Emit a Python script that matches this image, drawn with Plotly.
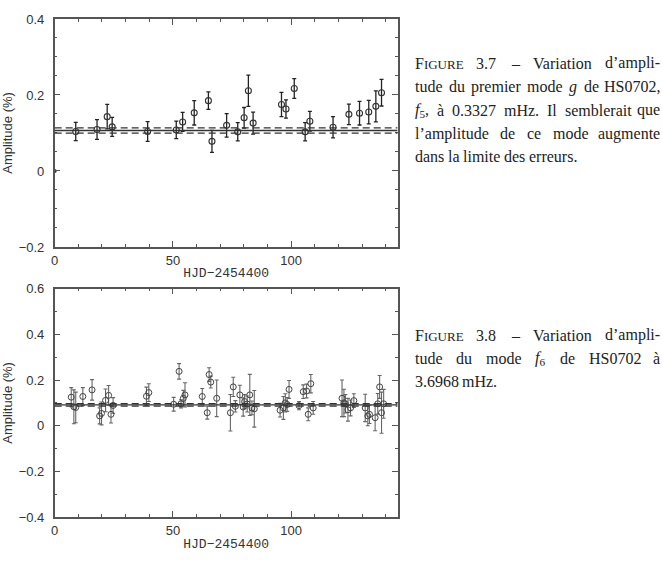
import plotly.graph_objects as go

# ---------------- data: top panel (f5) ----------------
t1 = [8.9, 17.9, 22.2, 24.3, 39.3, 51.4, 54.1, 59.0, 65.0, 66.5, 72.7, 77.4, 80.1,
      81.9, 83.9, 95.9, 97.8, 101.3, 105.9, 107.9, 117.7, 124.4, 128.9, 132.8, 135.8, 138.2]
a1 = [0.104, 0.109, 0.143, 0.116, 0.104, 0.108, 0.129, 0.153, 0.185, 0.078, 0.120, 0.103, 0.140,
      0.211, 0.126, 0.175, 0.163, 0.217, 0.103, 0.131, 0.115, 0.149, 0.152, 0.155, 0.170, 0.206]
e1 = [0.024, 0.026, 0.032, 0.025, 0.026, 0.023, 0.025, 0.032, 0.023, 0.029, 0.031, 0.024, 0.027,
      0.041, 0.029, 0.032, 0.024, 0.026, 0.024, 0.026, 0.028, 0.027, 0.031, 0.031, 0.041, 0.035]
mean1 = 0.1065
sig1 = 0.007

# ---------------- data: bottom panel (f6) ----------------
t2 = [7.0, 8.1, 8.9, 11.9, 15.8, 19.0, 19.8, 21.5, 22.8, 23.8, 24.7, 38.8, 39.8,
      50.3, 52.6, 53.4, 54.4, 55.1, 62.4, 64.5, 65.3, 66.0, 68.5, 74.3, 75.5, 76.4,
      78.3, 79.7, 80.3, 81.4, 82.5, 83.4, 84.4, 95.3, 96.7, 97.5, 98.3, 99.1, 103.3,
      105.1, 106.5, 107.2, 108.3, 109.3, 121.5, 122.3, 122.9, 124.0, 125.1, 126.5,
      131.3, 132.4, 133.1, 135.5, 136.6, 137.4, 138.2, 139.1]
a2 = [0.125, 0.083, 0.080, 0.128, 0.157, 0.043, 0.054, 0.111, 0.133, 0.050, 0.089, 0.129, 0.145,
      0.094, 0.238, 0.096, 0.120, 0.135, 0.128, 0.057, 0.224, 0.191, 0.120, 0.057, 0.170, 0.085,
      0.135, 0.082, 0.106, 0.095, 0.135, 0.078, 0.074, 0.068, 0.078, 0.100, 0.093, 0.159, 0.088,
      0.149, 0.152, 0.050, 0.184, 0.078, 0.120, 0.100, 0.096, 0.070, 0.078, 0.110,
      0.078, 0.043, 0.050, 0.035, 0.096, 0.170, 0.057, 0.096]
e2 = [0.042, 0.074, 0.067, 0.039, 0.045, 0.035, 0.050, 0.050, 0.043, 0.038, 0.034, 0.040, 0.039,
      0.030, 0.034, 0.018, 0.035, 0.053, 0.035, 0.028, 0.030, 0.026, 0.080, 0.080, 0.042, 0.025,
      0.042, 0.040, 0.030, 0.035, 0.090, 0.030, 0.080, 0.030, 0.050, 0.040, 0.030, 0.039, 0.018,
      0.030, 0.030, 0.028, 0.040, 0.028, 0.080, 0.060, 0.040, 0.050, 0.035, 0.030,
      0.060, 0.043, 0.040, 0.057, 0.045, 0.050, 0.090, 0.063]
mean2 = 0.0915
sig2 = 0.0055

xrange_ = [0, 145]
yr1 = [-0.2, 0.4]
yr2 = [-0.4, 0.6]
ytick1 = [-0.2, 0, 0.2, 0.4]
ytick2 = [-0.4, -0.2, 0, 0.2, 0.4, 0.6]
ytxt1 = ["\u22120.2", "0", "0.2", "0.4"]
ytxt2 = ["\u22120.4", "\u22120.2", "0", "0.2", "0.4", "0.6"]
xtick = [0, 50, 100]
xlabel = "HJD\u22122454400"
ylabel = "Amplitude (%)"

# caption text: each word is a list of segments (text, style); style: n=normal, i=italic, s=subscript, c=small caps
FIGW = [("F", "n"), ("IGURE", "c")]
cap1 = [
    [FIGW, [("3.7", "n")], [("\u2013", "n")], [("Variation", "n")], [("d\u2019ampli-", "n")]],
    [[("tude", "n")], [("du", "n")], [("premier", "n")], [("mode", "n")], [("g", "i")], [("de", "n")], [("HS0702,", "n")]],
    [[("f", "i"), ("5", "s"), (",", "n")], [("\u00e0", "n")], [("0.3327", "n")], [("mHz.", "n")], [("Il", "n")],
     [("semblerait", "n")], [("que", "n")]],
    [[("l\u2019amplitude", "n")], [("de", "n")], [("ce", "n")], [("mode", "n")], [("augmente", "n")]],
    [[("dans", "n")], [("la", "n")], [("limite", "n")], [("des", "n")], [("erreurs.", "n")]],
]
cap2 = [
    [FIGW, [("3.8", "n")], [("\u2013", "n")], [("Variation", "n")], [("d\u2019ampli-", "n")]],
    [[("tude", "n")], [("du", "n")], [("mode", "n")], [("f", "i"), ("6", "s")], [("de", "n")], [("HS0702", "n")], [("\u00e0", "n")]],
    [[("3.6968", "n")], [("mHz.", "n")]],
]

W, H = 662, 567
FS = 16
X_LEFT, X_RIGHT = 412, 661

# Times / Liberation Serif advance widths (per 1000 em)
TW = dict(zip("abcdefghijklmnopqrstuvwxyz",
              [444, 500, 444, 500, 444, 333, 500, 500, 278, 278, 500, 278, 778, 500, 500, 500, 500, 333, 389, 278, 500, 500, 722, 500, 500, 444]))
TW.update(dict(zip("ABCDEFGHIJKLMNOPQRSTUVWXYZ",
                   [722, 667, 667, 722, 611, 556, 722, 722, 333, 389, 722, 611, 889, 722, 722, 556, 722, 667, 556, 611, 722, 722, 944, 722, 722, 611])))
TW.update({c: 500 for c in "0123456789"})
TW.update({".": 250, ",": 250, "-": 333, "\u2013": 500, "\u2019": 333, "\u00e0": 444, " ": 250})


def seg_width(txt, st):
    size = {"n": FS, "i": FS, "s": FS * 0.7, "c": FS * 0.8}[st]
    return sum(TW.get(ch, 500) for ch in txt) * size / 1000.0


def seg_html(txt, st):
    if st == "i":
        return "<i>%s</i>" % txt
    if st == "s":
        return "<sub>%s</sub>" % txt
    if st == "c":
        return "<span style='font-size:%dpx'>%s</span>" % (round(FS * 0.8), txt)
    if txt == "F":
        return txt
    return txt


fig = go.Figure()

fig.add_trace(go.Scatter(
    x=t1, y=a1, mode="markers", xaxis="x", yaxis="y",
    marker=dict(symbol="circle-open", size=6, color="#333", line=dict(width=1.1, color="#333")),
    error_y=dict(type="data", array=e1, color="#222", thickness=1.3, width=2),
    showlegend=False))
fig.add_trace(go.Scatter(
    x=[0], y=[0], mode="markers", xaxis="x", yaxis="y",
    marker=dict(symbol="circle", size=4, color="#333"), showlegend=False))
fig.add_trace(go.Scatter(
    x=t2, y=a2, mode="markers", xaxis="x2", yaxis="y2",
    marker=dict(symbol="circle-open", size=6, color="#444", line=dict(width=1.0, color="#444")),
    error_y=dict(type="data", array=e2, color="#666", thickness=1.1, width=2),
    showlegend=False))

shapes = []
for (xr, yr, m, s) in [("x", "y", mean1, sig1), ("x2", "y2", mean2, sig2)]:
    shapes.append(dict(type="line", xref=xr, yref=yr, x0=xrange_[0], x1=xrange_[1], y0=m, y1=m,
                       line=dict(color="#333", width=1.3)))
    for v in (m - s, m + s):
        shapes.append(dict(type="line", xref=xr, yref=yr, x0=xrange_[0], x1=xrange_[1], y0=v, y1=v,
                           line=dict(color="#333", width=1.3, dash="7px,4px")))

axcommon = dict(showline=True, linecolor="#555", linewidth=1.5, mirror="ticks",
                ticks="inside", ticklen=6, tickcolor="#555", tickwidth=1,
                showgrid=False, zeroline=False,
                tickfont=dict(family="Liberation Sans", size=13, color="#333"))
xtitle = dict(text=xlabel, font=dict(family="Liberation Mono", size=13, color="#333"), standoff=1)
ytitle = dict(text=ylabel, font=dict(family="Liberation Sans", size=13, color="#333"), standoff=4)

xd = [51 / W, 396 / W]
fig.update_layout(
    width=W, height=H, margin=dict(l=0, r=0, t=0, b=0),
    paper_bgcolor="white", plot_bgcolor="white",
    xaxis=dict(domain=xd, range=xrange_, tickvals=xtick, anchor="y", ticklabelstandoff=1,
               minor=dict(dtick=10, ticks="inside", ticklen=3, tickcolor="#555"),
               title=xtitle, **axcommon),
    yaxis=dict(domain=[1 - 246.5 / H, 1 - 12.3 / H], range=yr1, tickvals=ytick1, ticktext=ytxt1,
               anchor="x", ticklabelstandoff=6,
               minor=dict(dtick=0.05, ticks="inside", ticklen=3, tickcolor="#555"),
               title=ytitle, **axcommon),
    xaxis2=dict(domain=xd, range=xrange_, tickvals=xtick, anchor="y2", ticklabelstandoff=1,
                minor=dict(dtick=10, ticks="inside", ticklen=3, tickcolor="#555"),
                title=xtitle, **axcommon),
    yaxis2=dict(domain=[1 - 524 / H, 1 - 289.3 / H], range=yr2, tickvals=ytick2, ticktext=ytxt2,
                anchor="x2", ticklabelstandoff=6,
                minor=dict(dtick=0.1, ticks="inside", ticklen=3, tickcolor="#555"),
                title=ytitle, **axcommon),
    shapes=shapes,
)

cfont = dict(family="Liberation Serif", size=FS, color="#222")
for lines, y0 in [(cap1, 58), (cap2, 337)]:
    for i, words in enumerate(lines):
        ypos = 1 - (y0 + 24 * i) / H
        widths = [sum(seg_width(t, s) for t, s in w) for w in words]
        htmls = ["".join(seg_html(t, s) for t, s in w) for w in words]
        last = (i == len(lines) - 1)
        if last or len(words) == 1:
            gap = TW[" "] * FS / 1000.0
        else:
            gap = (X_RIGHT - X_LEFT - sum(widths)) / (len(words) - 1)
        x = X_LEFT
        for j, (h, wd) in enumerate(zip(htmls, widths)):
            if (not last) and j == len(words) - 1 and len(words) > 1:
                fig.add_annotation(text=h, xref="paper", yref="paper", x=X_RIGHT / W, y=ypos,
                                   xanchor="right", yanchor="middle", showarrow=False, font=cfont,
                                   borderpad=0)
            else:
                fig.add_annotation(text=h, xref="paper", yref="paper", x=x / W, y=ypos,
                                   xanchor="left", yanchor="middle", showarrow=False, font=cfont,
                                   borderpad=0)
            x += wd + gap

fig.write_html("out.html")
